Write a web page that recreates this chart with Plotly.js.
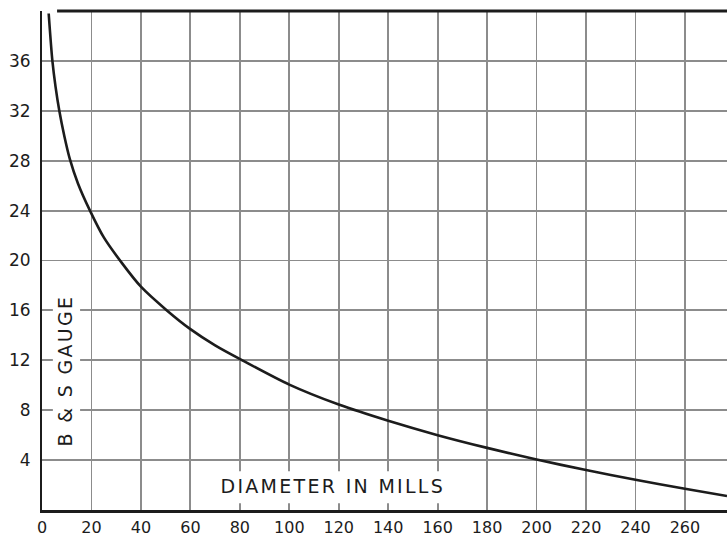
<!DOCTYPE html>
<html>
<head>
<meta charset="utf-8">
<script src="https://cdn.plot.ly/plotly-3.0.1.min.js"></script>
<style>
  html, body { margin: 0; padding: 0; background: #fff; }
  #chart { width: 727px; height: 537px; }
</style>
</head>
<body>
<div id="chart"></div>
<script>
// Wire diameter (mils) against Brown & Sharpe gauge number
const diameterMils = [2.7, 4.2, 5.5, 7.0, 9.0, 11.3, 14.5, 19.4, 25, 32.5, 40, 50.5, 60, 70, 81, 100, 120, 140, 160, 180, 200, 220, 240, 260, 277];
const bsGauge      = [39.8, 36, 33.9, 32, 30, 28.1, 26.2, 24, 21.85, 19.75, 17.9, 16, 14.5, 13.2, 12, 10.05, 8.45, 7.15, 6.0, 4.98, 4.05, 3.2, 2.42, 1.7, 1.12];

const xTicks = [0, 20, 40, 60, 80, 100, 120, 140, 160, 180, 200, 220, 240, 260];
const yTicks = [4, 8, 12, 16, 20, 24, 28, 32, 36];

const ink = '#1c1c1c';
const gridGray = '#8c8c8c';
const yTickFont = { family: 'DejaVu Sans, sans-serif', size: 17, color: ink };
const xTickFont = { family: 'DejaVu Sans, sans-serif', size: 16, color: ink };
const titleFont = { family: 'DejaVu Sans, sans-serif', size: 19, color: ink };

const trace = {
  x: diameterMils,
  y: bsGauge,
  mode: 'lines',
  line: { color: ink, width: 2.6, shape: 'spline', smoothing: 0.8 },
  hoverinfo: 'x+y'
};

const axisCommon = {
  showgrid: true,
  gridcolor: gridGray,
  gridwidth: 1.8,
  zeroline: false,
  showline: true,
  linecolor: ink,
  ticks: ''
};

const layout = {
  width: 727,
  height: 537,
  margin: { l: 42, r: 0, t: 11, b: 27 },
  paper_bgcolor: '#fff',
  plot_bgcolor: '#fff',
  showlegend: false,
  xaxis: Object.assign({}, axisCommon, {
    range: [0, 277],
    tickvals: xTicks,
    ticktext: xTicks.map(String),
    tickfont: xTickFont,
    linewidth: 2.6,
    ticklabelstandoff: 1
  }),
  yaxis: Object.assign({}, axisCommon, {
    range: [0, 40],
    tickvals: yTicks,
    ticktext: yTicks.map(String),
    tickfont: yTickFont,
    linewidth: 2,
    ticklabelstandoff: 6
  }),
  shapes: [
    // top frame line, heavier than the grid
    { type: 'line', xref: 'paper', yref: 'paper', x0: 0.022, x1: 1, y0: 1, y1: 1,
      line: { color: ink, width: 3 }, layer: 'above' },
    // white patches that break the grid behind the two axis captions
    { type: 'rect', xref: 'x', yref: 'y', x0: 4.4, x1: 15.4, y0: 4.6, y1: 17.8,
      fillcolor: '#fff', line: { width: 0 }, layer: 'between' },
    { type: 'rect', xref: 'x', yref: 'y', x0: 68, x1: 172, y0: 0.55, y1: 3.1,
      fillcolor: '#fff', line: { width: 0 }, layer: 'between' }
  ],
  annotations: [
    {
      text: 'B & S GAUGE',
      xref: 'x', yref: 'y',
      x: 9.5, y: 11.2,
      textangle: -90,
      showarrow: false,
      font: titleFont
    },
    {
      text: 'DIAMETER IN MILLS',
      xref: 'x', yref: 'y',
      x: 117.5, y: 1.9,
      showarrow: false,
      font: titleFont
    }
  ]
};

Plotly.newPlot('chart', [trace], layout, { staticPlot: true, displayModeBar: false }).then(function (gd) {
  // open up the hand-lettered captions a little
  gd.querySelectorAll('.annotation-text').forEach(function (t) {
    t.style.letterSpacing = '2.3px';
  });
});
</script>
</body>
</html>
